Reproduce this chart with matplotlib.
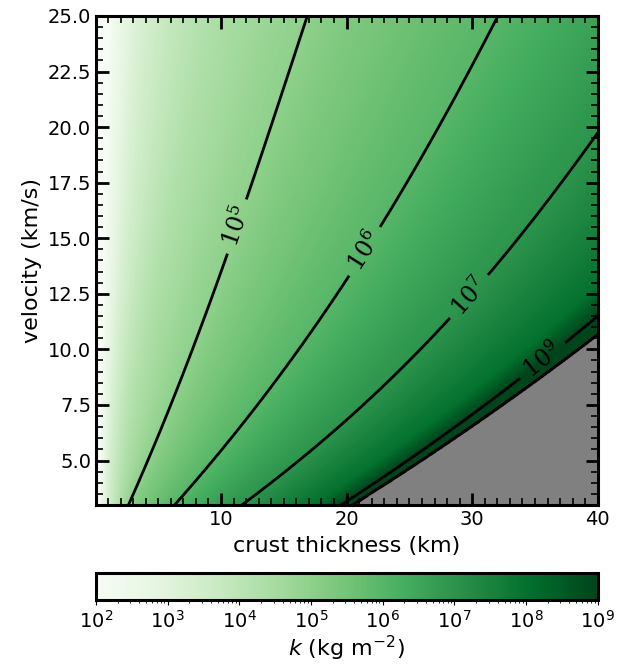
"""
Column mass k as a function of crust thickness and impact velocity.

Field is rebuilt from contour positions read off the reference figure.
"""
import matplotlib

matplotlib.use("Agg")
import matplotlib.pyplot as plt
import numpy as np
from matplotlib.colors import LogNorm
from matplotlib.ticker import MultipleLocator

# Velocity rows (km/s) at which contour positions were read
V_ROWS = [3.0, 5.0, 7.5, 10.0, 12.5, 15.0, 17.5, 20.0, 22.5, 25.0]

# Crust thickness (km) where log10(k) reaches each level, per velocity row
K2 = [0.30, 0.38, 0.45, 0.52, 0.60, 0.70, 0.80, 0.90, 1.00, 1.10]
K3 = [0.75, 0.90, 1.05, 1.30, 1.55, 1.80, 2.05, 2.30, 2.55, 2.80]
K4 = [1.60, 2.00, 2.30, 2.90, 3.60, 4.30, 5.00, 5.70, 6.35, 7.00]
K5 = [2.58, 4.20, 6.10, 7.70, 9.30, 10.9, 12.5, 14.0, 15.45, 16.84]
K6 = [6.30, 9.30, 13.0, 16.2, 19.2, 22.1, 24.7, 27.4, 29.8, 32.0]
K7 = [11.7, 16.1, 21.4, 25.9, 30.0, 33.6, 37.0, 40.4, 43.5, 46.5]
K8 = [17.3, 22.6, 28.6, 34.3, 39.2, 44.0, 48.5, 53.0, 57.0, 61.0]
K9 = [19.5, 24.9, 31.1, 36.9, 42.0, 47.0, 52.0, 57.0, 61.5, 66.0]
# Edge of the valid region (grey beyond it)
K_EDGE = [20.5, 26.0, 32.4, 38.5, 44.2, 49.5, 54.5, 59.5, 64.0, 68.5]

LEVEL_EXP = [2, 3, 4, 5, 6, 7, 8, 9, 10]
CONTOUR_EXP = [5, 6, 7, 9]
LABEL_POS = [(10.9, 15.6), (21.2, 14.5), (29.7, 12.4), (35.6, 9.5)]

# Configuration
FIG_W, FIG_H, DPI = 6.26, 6.64, 100
X_MIN, X_MAX = 0.05, 40.0
V_MIN, V_MAX = 3.0, 25.0


def build_field():
    xs = np.linspace(X_MIN, X_MAX, 900)
    vs = np.linspace(V_MIN, V_MAX, 700)
    table = [K2, K3, K4, K5, K6, K7, K8, K9, K_EDGE]
    # smooth each read contour along velocity (cubic through the read rows)
    pos = np.array([np.polyval(np.polyfit(V_ROWS, row, 3), vs) for row in table])
    logk = np.empty((len(vs), len(xs)))
    for j in range(len(vs)):
        logk[j] = np.interp(np.log(xs), np.log(pos[:, j]), LEVEL_EXP,
                            left=1.0, right=11.0)
    edge = pos[-1][:, None]
    valid = xs[None, :] <= edge
    return xs, vs, logk, valid


def main():
    xs, vs, logk, valid = build_field()
    k = 10.0 ** logk
    k_img = np.ma.masked_where(~valid, k)

    fig = plt.figure(figsize=(FIG_W, FIG_H), dpi=DPI)
    ax = fig.add_axes([0.1534, 0.2395, 0.8016, 0.7365])
    cax = fig.add_axes([0.1534, 0.0964, 0.8016, 0.0407])

    cmap = plt.get_cmap("Greens").with_extremes(bad="#808080")
    norm = LogNorm(vmin=1e2, vmax=1e9)
    mesh = ax.pcolormesh(xs, vs, k_img, cmap=cmap, norm=norm,
                         shading="auto", rasterized=True)

    cs = ax.contour(xs, vs, k, levels=[10.0 ** e for e in CONTOUR_EXP],
                    colors="k", linewidths=2.0)
    ax.contour(xs, vs, k, levels=[1e10], colors="k", linewidths=2.0)

    def fmt(val):
        e = int(round(np.log10(val)))
        return r"$\mathit{10}^{\mathit{%d}}$" % e

    labels = ax.clabel(cs, fmt=fmt, fontsize=17, manual=LABEL_POS,
                       inline=True, inline_spacing=8)
    for t in labels:
        t.set_math_fontfamily("dejavuserif")

    ax.set_xlim(X_MIN, X_MAX)
    ax.set_ylim(V_MIN, V_MAX)
    ax.xaxis.set_major_locator(MultipleLocator(10))
    ax.xaxis.set_minor_locator(MultipleLocator(1))
    ax.yaxis.set_major_locator(MultipleLocator(2.5))
    ax.yaxis.set_minor_locator(MultipleLocator(0.5))
    ax.tick_params(which="both", direction="in", top=True, right=True,
                   labelsize=14)
    ax.tick_params(which="major", length=9, width=2)
    ax.tick_params(which="minor", length=5, width=1.2)
    for sp in ax.spines.values():
        sp.set_linewidth(2.2)

    ax.set_xlabel("crust thickness (km)", fontsize=16, labelpad=5)
    ax.set_ylabel("velocity (km/s)", fontsize=16)

    cbar = fig.colorbar(mesh, cax=cax, orientation="horizontal")
    cbar.outline.set_linewidth(2.2)
    cbar.ax.tick_params(labelsize=14, pad=3.5)
    cbar.set_label(r"$k$ (kg m$^{-2}$)", fontsize=16, labelpad=1.5)

    fig.savefig("out.png", dpi=DPI)
    plt.close(fig)


if __name__ == "__main__":
    main()
